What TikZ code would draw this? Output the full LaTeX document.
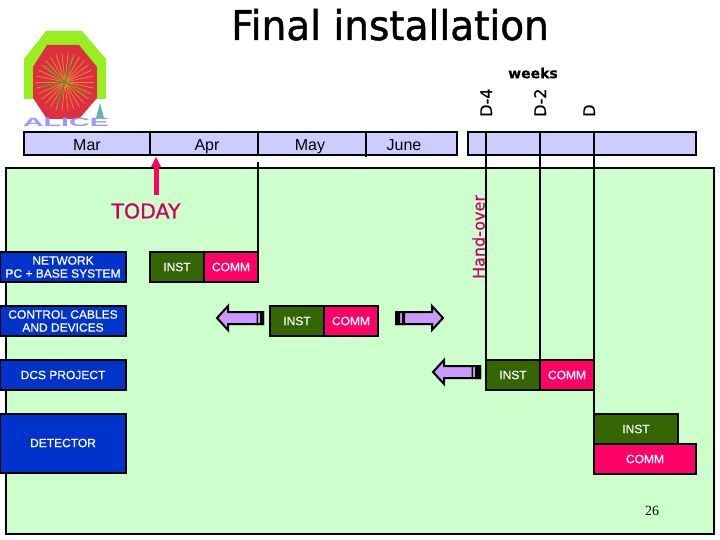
\documentclass[tikz,border=0pt]{standalone}
\usepackage{fontspec}
\setmainfont{Liberation Sans}
\newfontfamily\titlefont[FakeBold=1.2]{DejaVu Sans}
\newfontfamily\markfont[FakeBold=0.5]{DejaVu Sans}
\newfontfamily\boxfont[FakeBold=0.7]{Liberation Sans}
\newfontfamily\pagefont{Liberation Serif}
\definecolor{panelGreen}{HTML}{CCFFCC}
\definecolor{barLilac}{HTML}{CCCCFF}
\definecolor{blockBlue}{HTML}{0033CC}
\definecolor{instGreen}{HTML}{336600}
\definecolor{commPink}{HTML}{FF0066}
\definecolor{arrowLilac}{HTML}{CC99FF}
\definecolor{handRed}{HTML}{CC0066}
\definecolor{logoGreen}{HTML}{99EE22}
\definecolor{logoRed}{HTML}{DD2F3F}
\definecolor{logoRay}{HTML}{E08A30}
\definecolor{logoTrack}{HTML}{6F7F30}
\tikzset{
  blockbox/.style={draw=black, line width=2pt, fill=blockBlue, text=white, inner sep=0pt, align=center, font=\boxfont\fontsize{12}{14}\selectfont, minimum width=126pt},
  instbox/.style={draw=black, line width=2pt, fill=instGreen, text=white, inner sep=0pt, font=\boxfont\fontsize{12}{14}\selectfont, minimum height=30pt},
  commbox/.style={draw=black, line width=2pt, fill=commPink, text=white, inner sep=0pt, font=\boxfont\fontsize{12}{14}\selectfont, minimum height=30pt},
  monthlabel/.style={inner sep=0pt, anchor=base, font=\fontsize{16}{18}\selectfont},
  weeklabel/.style={inner sep=0pt, rotate=90, anchor=base west, font=\markfont\fontsize{16}{18}\selectfont},
  rule/.style={line width=2pt},
  shiftarrow/.style={draw=black, line width=2pt, fill=arrowLilac, line join=miter},
}

\begin{document}
\begin{tikzpicture}[x=1pt, y=-1pt]
  \useasboundingbox (0,0) rectangle (720,540);
  \fill[white] (0,0) rectangle (720,540);
  % logo
  \fill[logoGreen] (46,31) -- (82,31) -- (106,59) -- (106,99) -- (24,99) -- (24,59) -- cycle;
  \fill[logoRed] (47,45) -- (79,45) -- (97,67) -- (97,98) -- (79,119) -- (47,119) -- (33,98) -- (33,67) -- cycle;
  \foreach \ang in {0,12,...,348} {
    \draw[logoRay, line width=0.8pt] (65,82) -- ++(\ang:29);
  }
  \foreach \ang in {30,110,170,220,285} {
    \draw[logoTrack, line width=1.4pt] (65,82) -- ++(\ang:25);
  }
  \fill[teal!60] (100,103) -- (104,118) -- (96,118) -- cycle;
  \node[inner sep=0pt, text=blue!40, font=\bfseries\fontsize{12}{12}\selectfont, xscale=2.4] (alice) at (66,122) {ALICE};
  % title
  \node[inner sep=0pt, anchor=base, font=\titlefont\fontsize{39}{41}\selectfont, yscale=1.05] (title) at (390,40) {Final installation};
  \node[inner sep=0pt, font=\markfont\bfseries\fontsize{14}{16}\selectfont] (weeks) at (533,73) {weeks};
  \node[weeklabel] (dfour) at (492,117) {D-4};
  \node[weeklabel] (dtwo) at (546,117) {D-2};
  \node[weeklabel] (dzero) at (595,117) {D};
  % time bars
  \node[draw=black, line width=2pt, fill=barLilac, inner sep=0pt, minimum width=433pt, minimum height=23pt] (monthbar) at (240.5,143.5) {};
  \node[draw=black, line width=2pt, fill=barLilac, inner sep=0pt, minimum width=228pt, minimum height=23pt] (weekbar) at (582,143.5) {};
  \node[monthlabel] (mar) at (87,150.5) {Mar};
  \node[monthlabel] (apr) at (207,150.5) {Apr};
  \node[monthlabel] (may) at (310,150.5) {May};
  \node[monthlabel] (june) at (404,150.5) {June};
  \draw[rule] (150,132) -- (150,156);
  \draw[rule] (258,132) -- (258,156);
  \draw[rule] (366,132) -- (366,157);
  % panel
  \node[draw=black, line width=2pt, fill=panelGreen, inner sep=0pt, minimum width=708pt, minimum height=366pt] (panel) at (360,351) {};
  \node[inner sep=0pt, anchor=base, font=\pagefont\fontsize{14}{16}\selectfont] (pagenum) at (652,515) {26};
  % rows
  \node[blockbox, minimum height=30pt] (network) at (63,267) {NETWORK\\[-1pt]PC + BASE SYSTEM};
  \node[blockbox, minimum height=30pt] (cables) at (63,321) {CONTROL CABLES\\[-1pt]AND DEVICES};
  \node[blockbox, minimum height=30pt] (dcs) at (63,375) {DCS PROJECT};
  \node[blockbox, minimum height=59pt] (detector) at (63,443) {DETECTOR};
  \node[instbox, minimum width=54pt] (instnet) at (177,267) {INST};
  \node[commbox, minimum width=54pt] (commnet) at (231,267) {COMM};
  \node[instbox, minimum width=54pt] (instcab) at (297,321) {INST};
  \node[commbox, minimum width=54pt] (commcab) at (351,321) {COMM};
  \node[instbox, minimum width=54pt] (instdcs) at (513,375) {INST};
  \node[commbox, minimum width=54pt] (commdcs) at (567,375) {COMM};
  \node[instbox, minimum width=84pt] (instdet) at (636,429) {INST};
  \node[commbox, minimum width=102pt] (commdet) at (645,459) {COMM};
  % week lines
  \coordinate (tickapr) at (258,162);
  \coordinate (tickfour) at (486,132);
  \coordinate (ticktwo) at (540,132);
  \coordinate (tickzero) at (594,132);
  \draw[rule] (tickapr) -- (tickapr |- commnet.north);
  \draw[rule] (tickfour) -- (tickfour |- instdcs.north);
  \draw[rule] (ticktwo) -- (ticktwo |- commdcs.north);
  \draw[rule] (tickzero) -- (tickzero |- instdet.north);
  % today
  \coordinate (todaytip) at (156,157);
  \node[inner sep=0pt, text=handRed, font=\markfont\fontsize{20.5}{22}\selectfont] (today) at (146,211) {TODAY};
  \draw[line width=5pt, draw=commPink] (156,165) -- (156,195);
  \fill[commPink] (todaytip) -- (161,167) -- (151,167) -- cycle;
  \node[inner sep=0pt, rotate=90, anchor=base, text=handRed, font=\markfont\fontsize{16}{18}\selectfont] (handover) at (484.5,237) {Hand-over};
  % shift arrows
  \draw[shiftarrow] (217,318) -- (228,306) -- (228,312) -- (263,312) -- (263,324) -- (228,324) -- (228,330) -- cycle;
  \fill[black] (260,311) rectangle (264,325) (256.5,311) rectangle (258,325);
  \draw[shiftarrow] (443,318) -- (432,306) -- (432,312) -- (396,312) -- (396,324) -- (432,324) -- (432,330) -- cycle;
  \fill[black] (395,311) rectangle (400,325) (402,311) rectangle (405,325);
  \draw[shiftarrow] (433,372) -- (444,360) -- (444,366) -- (480,366) -- (480,378) -- (444,378) -- (444,384) -- cycle;
  \fill[black] (475,365) rectangle (481,379) (471.5,365) rectangle (473,379);
\end{tikzpicture}
\end{document}
